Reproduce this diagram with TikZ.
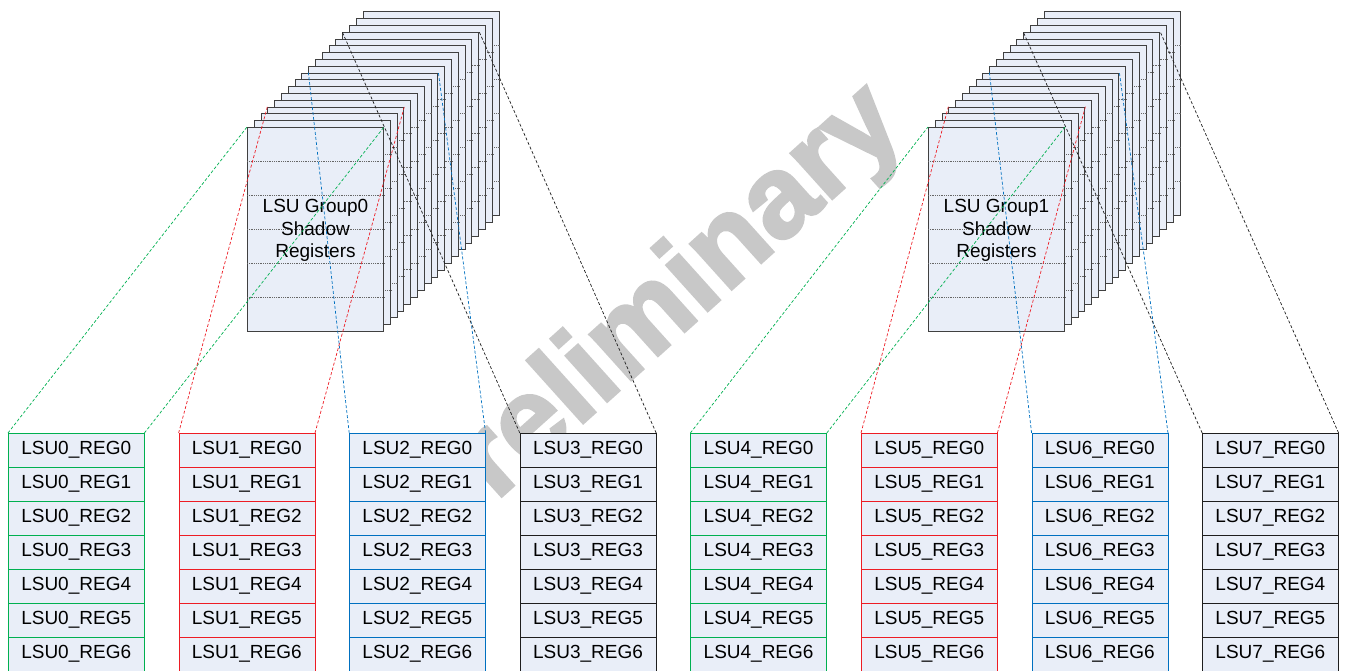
\documentclass[tikz,border=0pt]{standalone}
\usepackage{fontspec}
\setmainfont{Liberation Sans}
\newfontfamily\wmfont[FakeBold=2.5]{Liberation Sans Bold}
\usepackage{xcolor}
\usepackage{tikz}
\usetikzlibrary{calc}

\definecolor{regfill}{RGB}{233,238,248}
\definecolor{lsugreen}{RGB}{0,176,80}
\definecolor{lsured}{RGB}{237,28,36}
\definecolor{lsublue}{RGB}{0,112,192}
\definecolor{lsublack}{RGB}{30,30,30}
\definecolor{wmark}{RGB}{200,200,200}

\begin{document}
\begin{tikzpicture}[x=1pt,y=-1pt,
  reg/.style={draw,fill=regfill,minimum width=136pt,minimum height=34pt,
              inner sep=0pt,anchor=north west,font=\fontsize{19}{22}\selectfont},
  card/.style={draw=black!75,line width=1pt,fill=regfill,minimum width=136pt,
               minimum height=204pt,inner sep=0pt,anchor=north west},
  rowline/.style={black!60,densely dotted,line width=0.8pt},
  link/.style={dash pattern=on 3pt off 2pt,line width=0.7pt}]

  \useasboundingbox (0,0) rectangle (1345,671);

  % watermark
  \node[rotate=42,anchor=base,text=wmark,font=\wmfont\fontsize{116}{116}\selectfont]
    (wm) at (673,342) {Preliminary};

  % shadow register stacks, back to front
  \foreach \g in {0,1} {
    \foreach \n in {0,...,17} {
      \pgfmathtruncatemacro{\k}{17-\n}
      \node[card] (g\g c\k) at ({247+681*\g+6.8*\k},{127-6.8*\k}) {};
      \foreach \j in {1,...,5}
        \draw[rowline] ($(g\g c\k.north west)+(0,34*\j)$) -- ($(g\g c\k.north east)+(0,34*\j)$);
    }
    \node[align=center,font=\fontsize{19}{22.5}\selectfont] (g\g lbl) at ($(g\g c0.center)+(0,1)$)
      {LSU Group\g\\Shadow\\Registers};
  }

  % per-LSU register columns
  \foreach \u/\col in {0/lsugreen,1/lsured,2/lsublue,3/lsublack,4/lsugreen,5/lsured,6/lsublue,7/lsublack}
    \foreach \v in {0,...,6}
      \node[reg,draw=\col] (l\u r\v) at ({8+170.6*\u},{433+34*\v}) {LSU\u\_REG\v};

  % dashed links from each column to its card
  \foreach \g/\u/\k/\off/\col in {0/0/0/0/lsugreen,0/1/3/0/lsured,0/2/8/7/lsublue,0/3/14/0/lsublack,
                                  1/4/0/0/lsugreen,1/5/3/0/lsured,1/6/8/7/lsublue,1/7/14/0/lsublack} {
    \draw[link,\col] (l\u r0.north west) -- ($(g\g c\k.north west)+(\off,0)$);
    \draw[link,\col] (l\u r0.north east) -- (g\g c\k.north east);
  }

\end{tikzpicture}
\end{document}
